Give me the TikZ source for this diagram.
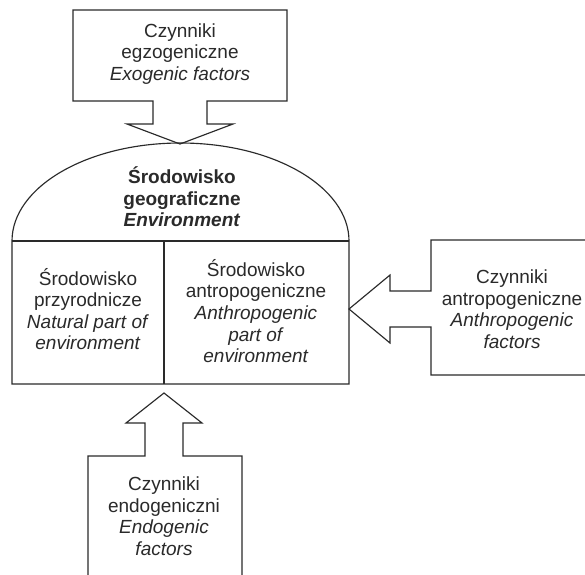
\documentclass[tikz,border=0pt]{standalone}
\usepackage{fontspec}
\setmainfont{Liberation Sans}
\definecolor{ink}{HTML}{2A2A2A}
\begin{document}
\begin{tikzpicture}[x=1pt,y=-1pt,
  outline/.style={draw=ink,line width=1.15pt,line join=miter},
  label/.style={align=center,text=ink,inner sep=0pt,font=\fontsize{19pt}{21.6pt}\selectfont}]
\path[use as bounding box] (0,0) rectangle (585,574);
\clip (0,0) rectangle (585,574);
\fill[white] (0,0) rectangle (585,574);
% main dome box
\draw[outline] (349,241) arc[start angle=0,end angle=180,x radius=168.5pt,y radius=98pt]
   -- (12,384) -- (349,384) -- cycle;
\draw[outline] (12,241) -- (349,241);
\draw[outline] (164,241) -- (164,384);
% top box with arrow
\draw[outline] (73,10) -- (287,10) -- (287,101) -- (207,101) -- (207,124) -- (233,124)
   -- (180,144) -- (127,124) -- (153,124) -- (153,101) -- (73,101) -- cycle;
% right box with arrow
\draw[outline] (600,240) -- (431,240) -- (431,291) -- (390,291) -- (390,275) -- (349,309)
   -- (390,343) -- (390,327) -- (431,327) -- (431,375) -- (600,375);
% bottom box with arrow
\draw[outline] (88,600) -- (88,456) -- (145,456) -- (145,423) -- (126,423) -- (164,393)
   -- (202,423) -- (183,423) -- (183,456) -- (242,456) -- (242,600);
% texts
\node[label] (exo) at (180,54) {Czynniki\\egzogeniczne\\\textit{Exogenic factors}};
\node[label,font=\fontsize{19pt}{21.6pt}\selectfont\bfseries] (env) at (182,197) {Środowisko\\geograficzne\\\textit{Environment}};
\node[label] (nat) at (88,309) {Środowisko\\przyrodnicze\\\textit{Natural part of}\\\textit{environment}};
\node[label] (ant) at (256,311) {Środowisko\\antropogeniczne\\\textit{Anthropogenic}\\\textit{part of}\\\textit{environment}};
\node[label] (antf) at (512,309) {Czynniki\\antropogeniczne\\\textit{Anthropogenic}\\\textit{factors}};
\node[label] (endo) at (164,516) {Czynniki\\endogeniczni\\\textit{Endogenic}\\\textit{factors}};
\end{tikzpicture}
\end{document}
